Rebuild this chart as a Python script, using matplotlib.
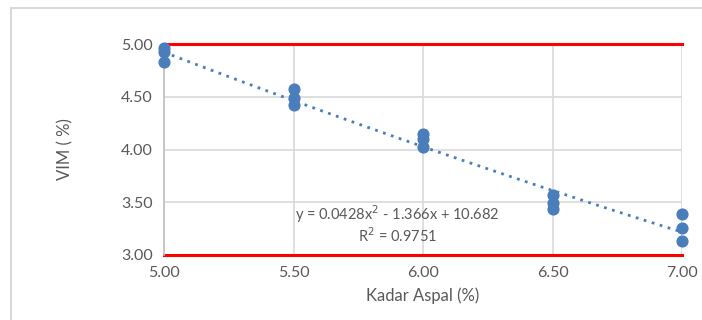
import numpy as np
import matplotlib.pyplot as plt
from matplotlib.patches import Rectangle

# -----------------------------------------
# data
# -----------------------------------------
kadar_aspal = [5.0, 5.0, 5.0, 5.5, 5.5, 5.5, 6.0, 6.0, 6.0, 6.5, 6.5, 6.5, 7.0, 7.0, 7.0]
vim = [4.96, 4.92, 4.83, 4.57, 4.49, 4.42, 4.15, 4.10, 4.02, 3.57, 3.49, 3.44, 3.39, 3.26, 3.13]

trend_coef = [0.0428, -1.366, 10.682]
r_squared = 0.9751

spec_upper = 5.0
spec_lower = 3.0

x_ticks = [5.0, 5.5, 6.0, 6.5, 7.0]
y_ticks = [3.0, 3.5, 4.0, 4.5, 5.0]

# -----------------------------------------
# style
# -----------------------------------------
plt.rcParams["font.family"] = ["Lato", "DejaVu Sans"]
text_color = "#595959"
grid_color = "#d9d9d9"
point_color = "#4a7ebb"

fig = plt.figure(figsize=(7.02, 3.2), dpi=100)
ax = fig.add_axes([164 / 702, 1 - 255 / 320, (682 - 164) / 702, (255 - 44) / 320])

# chart frame (only left and top edges are visible in the crop)
fig.patches.append(
    Rectangle((11 / 702, -0.5), 2, 1.5 - 8 / 320, transform=fig.transFigure,
              fill=False, edgecolor="#d9d9d9", lw=1.5, zorder=0)
)

ax.set_xlim(5.0, 7.0)
ax.set_ylim(3.0, 5.0)
ax.set_xticks(x_ticks)
ax.set_yticks(y_ticks)
ax.set_xticklabels([f"{t:.2f}" for t in x_ticks])
ax.set_yticklabels([f"{t:.2f}" for t in y_ticks])
ax.tick_params(length=0, labelsize=11.5, labelcolor=text_color, pad=8)
ax.grid(True, color=grid_color, lw=1.2)
ax.set_axisbelow(True)
for side in ["top", "right", "bottom"]:
    ax.spines[side].set_visible(False)
ax.spines["left"].set_color("#bfbfbf")
ax.spines["left"].set_linewidth(1.2)

# spec limits
ax.axhline(spec_upper, color="red", lw=2.2, zorder=2, clip_on=False)
ax.axhline(spec_lower, color="red", lw=2.2, zorder=2, clip_on=False)

# trendline
xs = np.linspace(5.0, 7.0, 100)
ax.plot(xs, np.polyval(trend_coef, xs), color=point_color, lw=2, ls=(0, (1, 2)), zorder=3)

ax.scatter(kadar_aspal, vim, s=60, color=point_color, zorder=4, clip_on=False)

ax.text(5.90, 3.39, "y = 0.0428x$^2$ - 1.366x + 10.682", ha="center", va="center",
        fontsize=10.5, color=text_color)
ax.text(5.90, 3.18, f"R$^2$ = {r_squared}", ha="center", va="center",
        fontsize=10.5, color=text_color)

ax.set_xlabel("Kadar Aspal (%)", fontsize=12, color=text_color, labelpad=5)
ax.set_ylabel("VIM ( %)", fontsize=12, color=text_color, labelpad=34)

fig.savefig("out.png", dpi=100)
